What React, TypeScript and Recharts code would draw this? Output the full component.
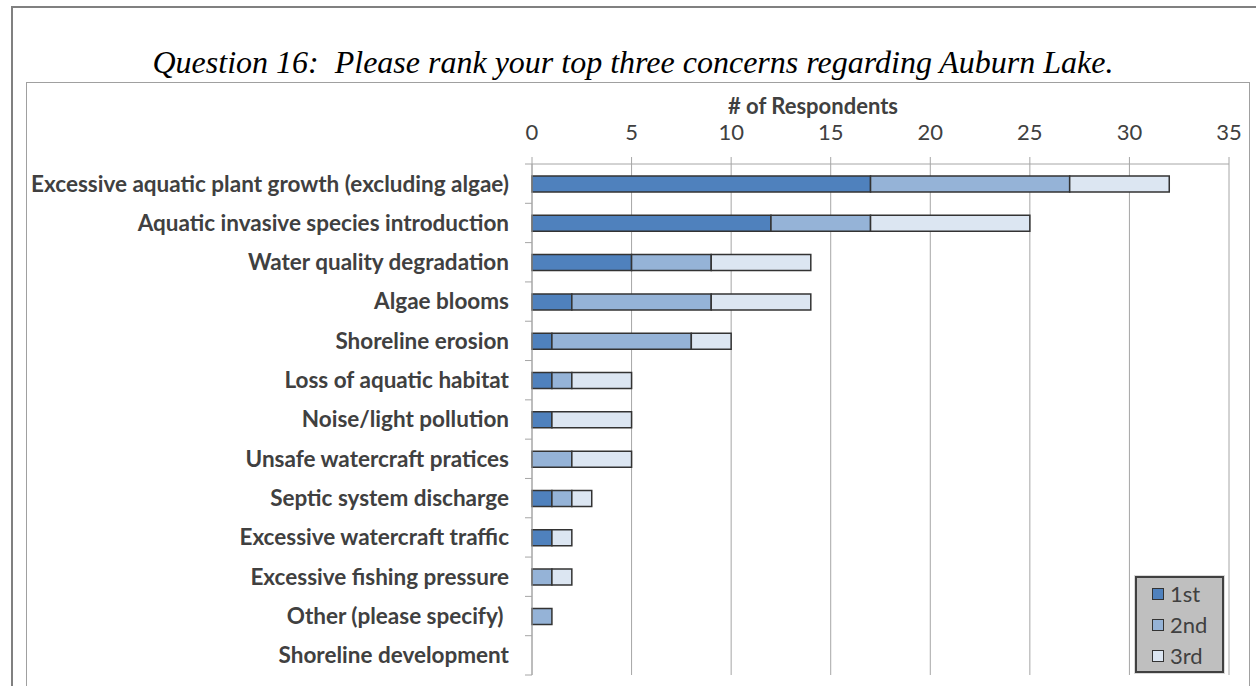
import React from "react";
import { Bar, BarChart, CartesianGrid, XAxis, YAxis } from "recharts";

const CATEGORIES = [
  "Excessive aquatic plant growth (excluding algae)",
  "Aquatic invasive species introduction",
  "Water quality degradation",
  "Algae blooms",
  "Shoreline erosion",
  "Loss of aquatic habitat",
  "Noise/light pollution",
  "Unsafe watercraft pratices",
  "Septic system discharge",
  "Excessive watercraft traffic",
  "Excessive fishing pressure",
  "Other (please specify) ",
  "Shoreline development",
];

const FIRST = [17, 12, 5, 2, 1, 1, 1, 0, 1, 1, 0, 0, 0];
const SECOND = [10, 5, 4, 7, 7, 1, 0, 2, 1, 0, 1, 1, 0];
const THIRD = [5, 8, 5, 5, 2, 3, 4, 3, 1, 1, 1, 0, 0];

const X_TICKS = [0, 5, 10, 15, 20, 25, 30, 35];

const SERIES = [
  { key: "first", label: "1st", color: "#4F81BD" },
  { key: "second", label: "2nd", color: "#95B3D7" },
  { key: "third", label: "3rd", color: "#DCE6F2" },
];

const data = CATEGORIES.map((name, i) => ({
  name,
  first: FIRST[i],
  second: SECOND[i],
  third: THIRD[i],
}));

const WIDTH = 1256;
const HEIGHT = 686;
const MARGIN = { top: 104, right: 27, bottom: 11, left: 0 };
const X_AXIS_HEIGHT = 60;
const PLOT_HEIGHT = HEIGHT - MARGIN.top - X_AXIS_HEIGHT - MARGIN.bottom;
const BAND = PLOT_HEIGHT / CATEGORIES.length;

const FONT = "Lato, 'Open Sans', sans-serif";
const TEXT = "#404040";
const GRID = "#A6A6A6";

function CategoryTick(props: any) {
  const { x, y, payload, index } = props;
  const last = index === CATEGORIES.length - 1;
  return (
    <g>
      <line x1={x - 7} x2={x} y1={y - BAND / 2} y2={y - BAND / 2} stroke={GRID} />
      {last && <line x1={x - 7} x2={x} y1={y + BAND / 2} y2={y + BAND / 2} stroke={GRID} />}
      <text
        x={x - 23}
        y={y}
        dy="0.35em"
        textAnchor="end"
        fontFamily={FONT}
        fontWeight={700}
        fontSize={22.5}
        fill={TEXT}
        style={{ whiteSpace: "pre" }}
      >
        {payload.value}
      </text>
    </g>
  );
}

function LegendBox() {
  return (
    <div
      style={{
        position: "absolute",
        left: 1135,
        top: 576,
        width: 85,
        height: 93,
        background: "#BFBFBF",
        border: "2px solid #404040",
        outline: "1px solid #D9D9D9",
        fontFamily: FONT,
        fontSize: 22,
        color: TEXT,
      }}
    >
      {SERIES.map((s) => (
        <div key={s.key} style={{ display: "flex", alignItems: "center", height: 31, paddingLeft: 15 }}>
          <span
            style={{
              display: "inline-block",
              width: 10,
              height: 10,
              background: s.color,
              border: "1.5px solid #333",
              marginRight: 6,
            }}
          />
          {s.label}
        </div>
      ))}
    </div>
  );
}

export default function App() {
  return (
    <div style={{ position: "fixed", left: 0, top: 0, width: WIDTH, height: HEIGHT, background: "#fff", overflow: "hidden" }}>
      <div
        style={{
          position: "absolute",
          left: 11,
          top: 6,
          width: WIDTH,
          height: HEIGHT,
          borderLeft: "2px solid #808080",
          borderTop: "2px solid #808080",
        }}
      />
      <div
        style={{
          position: "absolute",
          left: 26,
          top: 82,
          width: 1222,
          height: HEIGHT,
          border: "1px solid #A0A0A0",
        }}
      />
      <div
        style={{
          position: "absolute",
          left: 0,
          width: 1266,
          top: 44,
          textAlign: "center",
          fontFamily: "'Liberation Serif', 'Times New Roman', serif",
          fontStyle: "italic",
          fontSize: 32,
          color: "#000",
          whiteSpace: "pre",
        }}
      >
        {"Question 16:  Please rank your top three concerns regarding Auburn Lake."}
      </div>
      <div
        style={{
          position: "absolute",
          left: 663,
          width: 300,
          top: 92,
          textAlign: "center",
          fontFamily: FONT,
          fontWeight: 700,
          fontSize: 22,
          color: TEXT,
        }}
      >
        # of Respondents
      </div>
      <div style={{ position: "absolute", left: 0, top: 0 }}>
        <BarChart width={WIDTH} height={HEIGHT} data={data} layout="vertical" margin={MARGIN} barSize={16}>
          <CartesianGrid vertical horizontal={false} stroke={GRID} />
          <XAxis
            type="number"
            orientation="top"
            domain={[0, 35]}
            ticks={X_TICKS}
            height={X_AXIS_HEIGHT}
            tickSize={7}
            tickMargin={17}
            stroke={GRID}
            tick={{ fill: TEXT, fontSize: 22, fontFamily: FONT }}
            interval={0}
          />
          <XAxis
            xAxisId="bottom"
            type="number"
            orientation="bottom"
            domain={[0, 35]}
            height={0}
            tick={false}
            tickLine={false}
            stroke={GRID}
          />
          <YAxis
            type="category"
            dataKey="name"
            width={532}
            tickLine={false}
            tickSize={0}
            tickMargin={0}
            stroke={GRID}
            interval={0}
            tick={<CategoryTick />}
          />
          {SERIES.map((s) => (
            <Bar
              key={s.key}
              dataKey={s.key}
              name={s.label}
              stackId="rank"
              fill={s.color}
              stroke="#333333"
              strokeWidth={1.5}
              isAnimationActive={false}
            />
          ))}
        </BarChart>
      </div>
      <LegendBox />
    </div>
  );
}
